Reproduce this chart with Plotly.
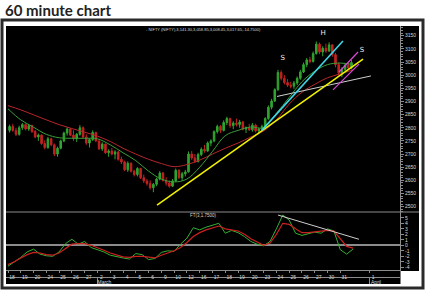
import plotly.graph_objects as go

W, H = 427, 292

# ---------------- data ----------------
day_labels = ["18", "19", "20", "24", "25", "26", "27", "2", "3", "4", "5", "6", "9", "10", "12",
              "16", "17", "18", "19", "20", "23", "24", "25", "26", "27", "30", "31"]
future_label = "1"
future_day = 28.25          # 1 April, beyond the data
month_labels = ["March", "April"]
month_start_days = [7, 28.25]
bars_per_day = 4

opens = [2790,2805,2790,2775, 2800,2812,2795,2808, 2786,2765,2772,2740, 2725,2758,2735,2700,
         2722,2750,2780,2795, 2772,2760,2775,2800, 2765,2742,2755,2782, 2750,2720,2738,2705,
         2712,2700,2708,2680, 2670,2640,2665,2635, 2622,2645,2610,2598, 2588,2572,2585,2605,
         2628,2600,2590,2578, 2598,2638,2610,2625, 2632,2700,2685,2672, 2698,2718,2712,2742,
         2750,2785,2805,2790, 2820,2835,2808,2818, 2812,2822,2795,2800, 2792,2810,2788,2795,
         2805,2835,2878,2902, 2945,3010,2988,2972, 2962,2958,2970,2988, 3012,3040,3058,3052,
         3082,3118,3088,3102, 3092,3115,3078,3040, 3008,3022,3038,3028]
highs = [2812,2815,2800,2808, 2818,2816,2815,2812, 2792,2778,2775,2752, 2765,2762,2740,2728,
         2755,2785,2802,2798, 2790,2780,2810,2805, 2775,2760,2790,2785, 2752,2745,2740,2718,
         2723,2715,2712,2690, 2675,2672,2668,2640, 2650,2648,2622,2605, 2600,2590,2610,2635,
         2632,2612,2600,2605, 2645,2642,2632,2640, 2710,2712,2700,2705, 2725,2735,2748,2756,
         2790,2812,2810,2828, 2842,2838,2825,2835, 2830,2826,2805,2815, 2818,2815,2800,2812,
         2840,2885,2910,2950, 3020,3018,3000,2985, 2975,2978,2995,3020, 3048,3065,3070,3090,
         3128,3124,3110,3120, 3125,3118,3085,3048, 3030,3045,3050,3058]
lows = [2782,2785,2768,2770, 2792,2790,2788,2780, 2760,2750,2735,2718, 2720,2730,2692,2690,
        2718,2745,2770,2768, 2750,2746,2770,2760, 2735,2725,2750,2745, 2715,2712,2700,2690,
        2695,2680,2675,2662, 2635,2632,2630,2615, 2615,2605,2590,2580, 2565,2555,2578,2600,
        2595,2580,2572,2575, 2594,2605,2598,2615, 2630,2678,2666,2668, 2692,2705,2708,2730,
        2745,2778,2780,2786, 2810,2800,2795,2805, 2800,2790,2780,2788, 2785,2782,2775,2790,
        2800,2830,2870,2898, 2940,2980,2965,2955, 2950,2948,2962,2982, 3008,3030,3045,3048,
        3078,3080,3072,3085, 3088,3070,3030,2998, 2992,3015,3020,3022]
closes = [2805,2790,2775,2800, 2812,2795,2808,2786, 2765,2772,2740,2725, 2758,2735,2700,2722,
          2750,2780,2795,2772, 2760,2775,2800,2765, 2742,2755,2782,2750, 2720,2738,2705,2712,
          2700,2708,2680,2670, 2640,2665,2635,2622, 2645,2610,2598,2588, 2572,2585,2605,2628,
          2600,2590,2578,2598, 2638,2610,2625,2632, 2700,2685,2672,2698, 2718,2712,2742,2750,
          2785,2805,2790,2820, 2835,2808,2818,2812, 2822,2795,2800,2792, 2810,2788,2795,2805,
          2835,2878,2902,2945, 3010,2988,2972,2962, 2958,2970,2988,3012, 3040,3058,3052,3082,
          3118,3088,3102,3092, 3115,3078,3040,3008, 3022,3038,3028,3048]

# moving averages, one value per day boundary (day 0 .. 27)
ma_slow = [2884,2868,2849,2830,2812,2797,2783,2768,2748,2722,2700,2680,2664,2652,2660,2677,
           2700,2722,2742,2765,2788,2830,2890,2935,2965,2990,3005,3020]
ma_fast = [2872,2830,2802,2775,2762,2760,2760,2758,2735,2705,2675,2635,2605,2594,2605,2650,
           2710,2770,2790,2803,2800,2855,2915,2975,3015,3040,3046,3040]

# oscillator FT(3,1.75), one value per half day (day 0 .. 27)
osc_fast = [-3.8,-3.0,-2.2,-1.2,-0.7,-1.6,-1.9,-2.0,-1.2,0.3,1.1,0.2,0.7,-0.4,-0.8,-1.2,-1.8,
            -2.1,-2.3,-2.5,-1.5,-1.7,-2.6,-2.4,-1.3,-1.0,-1.1,0.2,1.3,3.2,2.8,3.3,3.6,4.0,2.2,
            2.7,2.3,1.6,0.7,0.2,-0.1,0.7,3.0,5.5,4.6,2.2,1.8,2.1,2.4,2.2,3.0,2.6,-0.8,-1.6,-0.7]
osc_slow = [-3.5,-3.0,-2.3,-1.7,-1.3,-1.4,-1.7,-1.8,-1.4,-0.6,0.2,0.3,0.3,0.0,-0.4,-0.9,-1.4,
            -1.8,-2.1,-2.2,-2.0,-2.0,-2.2,-2.3,-1.8,-1.4,-1.0,-0.4,0.5,1.6,2.3,2.8,3.2,3.5,3.0,
            2.8,2.6,2.0,1.2,0.6,0.0,0.4,2.0,4.0,3.8,3.0,2.3,2.3,2.4,2.5,2.7,2.6,1.2,-0.2,-0.5]

# hand-drawn trend lines (day, price)
yellow_line = {"x": [11.66, 27.78], "y": [2506, 3061]}
cyan_line = {"x": [19.87, 26.21], "y": [2791, 3130]}
white_line = {"x": [21.05, 28.4], "y": [2919, 2997]}
magenta_upper = {"x": [25.9, 27.39], "y": [3012, 3088]}
magenta_lower = {"x": [25.43, 27.46], "y": [2944, 3042]}
osc_trend = {"x": [21.13, 27.46], "y": [5.5, 1.1]}
pattern_labels = ["S", "H", "S"]
pattern_x = [21.5, 24.65, 27.7]
pattern_y = [3065, 3160, 3096]

price_ticks = list(range(2500, 3151, 50))
osc_ticks = list(range(-4, 6))

# ---------------- styling ----------------
GREEN = "#2fa52f"
RED = "#c22222"
GRAY = "#8c8c8c"
TXT = "#d8d8d8"
FONT = "Liberation Sans"

n_bars = len(closes)
bar_x = [i / bars_per_day + 0.5 / bars_per_day for i in range(n_bars)]
ma_x = list(range(len(ma_slow)))
osc_x = [i * 0.5 for i in range(len(osc_fast))]

fig = go.Figure()
fig.add_trace(go.Candlestick(
    x=bar_x, open=opens, high=highs, low=lows, close=closes, xaxis="x", yaxis="y",
    increasing=dict(line=dict(color=GREEN, width=1), fillcolor=GREEN),
    decreasing=dict(line=dict(color=RED, width=1), fillcolor=RED),
    whiskerwidth=0, showlegend=False, hoverinfo="skip"))
fig.add_trace(go.Scatter(x=ma_x, y=ma_slow, mode="lines", line=dict(color="#b8262a", width=1, shape="spline"),
                         xaxis="x", yaxis="y", showlegend=False, hoverinfo="skip"))
fig.add_trace(go.Scatter(x=ma_x, y=ma_fast, mode="lines", line=dict(color="#3a9e3a", width=1, shape="spline"),
                         xaxis="x", yaxis="y", showlegend=False, hoverinfo="skip"))

for ln, col, wd in [(white_line, "#cfcfcf", 1), (yellow_line, "#f0f000", 1.6), (cyan_line, "#3fd6e6", 1.6),
                    (magenta_upper, "#d84ad8", 1.2), (magenta_lower, "#d84ad8", 1.2)]:
    fig.add_trace(go.Scatter(x=ln["x"], y=ln["y"], mode="lines", line=dict(color=col, width=wd),
                             xaxis="x", yaxis="y", showlegend=False, hoverinfo="skip"))

fig.add_trace(go.Scatter(x=pattern_x, y=pattern_y, mode="text", text=pattern_labels,
                         textfont=dict(family="DejaVu Sans", size=7, color="#f0f0f0"),
                         xaxis="x", yaxis="y", showlegend=False, hoverinfo="skip"))

fig.add_trace(go.Scatter(x=osc_x, y=osc_fast, mode="lines", line=dict(color="#33b033", width=1),
                         xaxis="x2", yaxis="y2", showlegend=False, hoverinfo="skip"))
fig.add_trace(go.Scatter(x=osc_x, y=osc_slow, mode="lines", line=dict(color="#cc2020", width=1.2),
                         xaxis="x2", yaxis="y2", showlegend=False, hoverinfo="skip"))
fig.add_trace(go.Scatter(x=osc_trend["x"], y=osc_trend["y"], mode="lines", line=dict(color="#cfcfcf", width=1),
                         xaxis="x2", yaxis="y2", showlegend=False, hoverinfo="skip"))
# carrier for the month axis
fig.add_trace(go.Scatter(x=month_start_days, y=[None, None], mode="markers", marker=dict(opacity=0),
                         xaxis="x3", yaxis="y", showlegend=False, hoverinfo="skip"))

dom = [6 / W, 400 / W]
xr = [(6 - 8) / 12.78, (400 - 8) / 12.78]
tick_days = list(range(len(day_labels))) + [future_day]
tick_text = day_labels + [future_label]

common_x = dict(domain=dom, range=xr, showgrid=False, zeroline=False, fixedrange=True)
fig.update_layout(
    width=W, height=H, margin=dict(l=0, r=0, t=0, b=0),
    paper_bgcolor="white", plot_bgcolor="black",
    font=dict(family=FONT, color=TXT, size=5),
    xaxis=dict(**common_x, anchor="y", showticklabels=False, showline=False,
               rangeslider=dict(visible=False)),
    xaxis2=dict(**common_x, anchor="y2", showline=True, linecolor=GRAY, linewidth=1,
                tickmode="array", tickvals=tick_days, ticktext=tick_text,
                ticks="outside", ticklen=2, tickcolor=GRAY,
                tickfont=dict(size=5, color=TXT, family=FONT), ticklabelshift=4),
    xaxis3=dict(**common_x, anchor="free", position=1 - 277 / H, overlaying="x",
                showline=True, linecolor=GRAY, linewidth=1,
                tickmode="array", tickvals=month_start_days, ticktext=month_labels,
                ticks="outside", ticklen=6, tickcolor=GRAY,
                tickfont=dict(size=5, color=TXT, family=FONT), ticklabelshift=7, ticklabelstandoff=-6),
    yaxis=dict(domain=[1 - 212 / H, 1 - 26 / H], range=[3150 - (212 - 35.7) * 3.802, 3150 + (35.7 - 26) * 3.802],
               side="right", anchor="x", showgrid=False, zeroline=False, fixedrange=True,
               showline=True, linecolor=GRAY, linewidth=1,
               tickmode="array", tickvals=price_ticks, ticktext=[str(v) for v in price_ticks],
               ticks="outside", ticklen=3, tickcolor=GRAY,
               tickfont=dict(size=5, color=TXT, family=FONT),
               minor=dict(dtick=10, ticks="outside", ticklen=1.5, tickcolor=GRAY)),
    yaxis2=dict(domain=[1 - 270 / H, 1 - 212 / H], range=[(245.3 - 270) / 5.5, (245.3 - 212) / 5.5],
                side="right", anchor="x2", showgrid=False, fixedrange=True,
                zeroline=True, zerolinecolor=GRAY, zerolinewidth=2,
                showline=True, linecolor=GRAY, linewidth=1,
                tickmode="array", tickvals=osc_ticks, ticktext=[str(v) for v in osc_ticks],
                ticks="outside", ticklen=3, tickcolor=GRAY,
                tickfont=dict(size=5, color=TXT, family=FONT)),
    shapes=[
        dict(type="rect", xref="paper", yref="paper", x0=2 / W, x1=423 / W, y0=1 - 288 / H, y1=1 - 20 / H,
             line=dict(color="#2a2a2a", width=3), fillcolor="white", layer="below"),
        dict(type="rect", xref="paper", yref="paper", x0=6 / W, x1=419 / W, y0=1 - 284 / H, y1=1 - 26 / H,
             line=dict(width=0), fillcolor="black", layer="below"),
        dict(type="line", xref="paper", yref="paper", x0=6 / W, x1=419 / W, y0=1 - 212 / H, y1=1 - 212 / H,
             line=dict(color=GRAY, width=1)),
        dict(type="rect", xref="paper", yref="paper", x0=400.5 / W, x1=419 / W, y0=1 - 284 / H, y1=1 - 271 / H,
             line=dict(width=0), fillcolor="white", layer="above"),
    ],
    annotations=[
        dict(text="<b>60 minute chart</b>", xref="paper", yref="paper", x=3 / W, y=1 - 10 / H,
             xanchor="left", yanchor="middle", showarrow=False,
             font=dict(family="Lato", size=15, color="#222222")),
        dict(text="- NIFTY (NIFTY),3,141.30,3,058.85,3,008.45,3,017.65,-14.7500)", xref="paper", yref="paper",
             x=203 / W, y=1 - 30 / H, xanchor="center", yanchor="middle", showarrow=False,
             font=dict(family=FONT, size=4, color=TXT)),
        dict(text="FT(3,1.7500)", xref="paper", yref="paper",
             x=203 / W, y=1 - 215.5 / H, xanchor="center", yanchor="middle", showarrow=False,
             font=dict(family=FONT, size=4.5, color=TXT)),
    ],
)

fig.write_html("out.html")
